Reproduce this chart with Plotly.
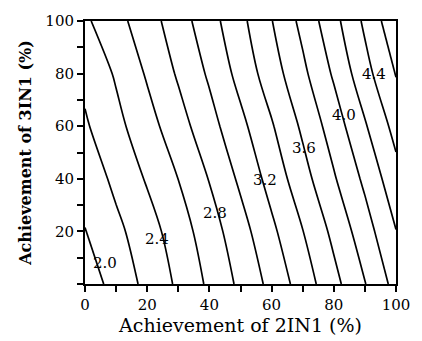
import plotly.graph_objects as go

# Achievement grids (%)
x_2in1 = [0, 10, 20, 30, 40, 50, 60, 70, 80, 90, 100]
y_3in1 = [0, 20, 40, 60, 80, 100]

# Values, one row per y value
z_row_y0 = [1.89, 2.073, 2.253, 2.433, 2.637, 2.843, 3.058, 3.293, 3.539, 3.792, 4.069]
z_row_y20 = [1.994, 2.151, 2.314, 2.502, 2.708, 2.921, 3.157, 3.395, 3.649, 3.911, 4.195]
z_row_y40 = [2.075, 2.247, 2.42, 2.602, 2.809, 3.037, 3.273, 3.523, 3.779, 4.041, 4.33]
z_row_y60 = [2.175, 2.343, 2.522, 2.718, 2.926, 3.146, 3.381, 3.635, 3.895, 4.179, 4.468]
z_row_y80 = [2.25, 2.422, 2.622, 2.824, 3.029, 3.267, 3.506, 3.754, 4.026, 4.329, 4.61]
z_row_y100 = [2.367, 2.533, 2.712, 2.907, 3.12, 3.347, 3.593, 3.856, 4.135, 4.437, 4.745]

# Contour levels
level_start, level_end, level_step = 2.0, 4.6, 0.2

# Labelled contour values and where their labels sit
label_values = [2.0, 2.4, 2.8, 3.2, 3.6, 4.0, 4.4]
label_x = [6.4, 23.3, 41.7, 57.9, 70.4, 83.3, 92.8]
label_y = [7.8, 17.1, 27.0, 39.4, 51.7, 64.1, 79.7]

tick_vals = [0, 10, 20, 30, 40, 50, 60, 70, 80, 90, 100]
x_tick_text = ["0", "", "20", "", "40", "", "60", "", "80", "", "100"]
y_tick_text = ["", "", "20", "", "40", "", "60", "", "80", "", "100"]

z = [z_row_y0, z_row_y20, z_row_y40, z_row_y60, z_row_y80, z_row_y100]

FONT = "DejaVu Serif"

fig = go.Figure()
fig.add_trace(go.Contour(
    x=x_2in1, y=y_3in1, z=z,
    autocontour=False,
    contours=dict(start=level_start, end=level_end, size=level_step,
                  coloring="lines", showlabels=False),
    colorscale=[[0, "black"], [1, "black"]],
    line=dict(width=1.7, color="black", smoothing=1.0),
    showscale=False,
    hoverinfo="skip",
))

for v, lx, ly in zip(label_values, label_x, label_y):
    fig.add_annotation(x=lx, y=ly, text=f"{v:.1f}", showarrow=False,
                       font=dict(family=FONT, size=15, color="black"),
                       xanchor="center", yanchor="middle")

axis_common = dict(
    range=[0, 100], tickmode="array", tickvals=tick_vals,
    ticks="outside", ticklen=6, tickwidth=1.5, tickcolor="black",
    showline=True, linecolor="black", linewidth=2, mirror=True,
    showgrid=False, zeroline=False,
    tickfont=dict(family=FONT, size=15, color="black"),
)

fig.update_xaxes(**axis_common, ticktext=x_tick_text,
                 title=dict(text="Achievement of 2IN1 (%)",
                            font=dict(family=FONT, size=19, color="black"),
                            standoff=2))
fig.update_yaxes(**axis_common, ticktext=y_tick_text,
                 title=dict(text="<b>Achievement of 3IN1 (%)</b>",
                            font=dict(family=FONT, size=16, color="black"),
                            standoff=10))

fig.update_layout(
    width=422, height=341,
    margin=dict(l=85, r=19, t=16, b=56),
    paper_bgcolor="white", plot_bgcolor="white",
    showlegend=False,
)

fig.write_html("out.html")
